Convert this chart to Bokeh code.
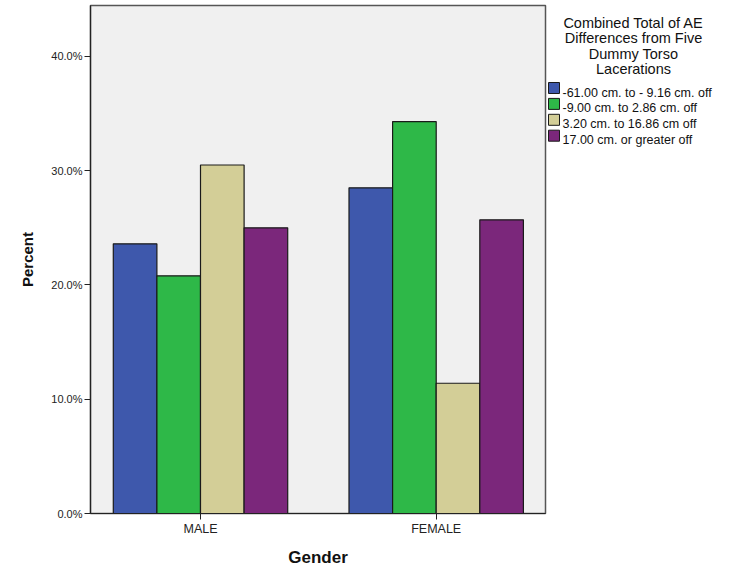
from bokeh.plotting import figure
from bokeh.layouts import row
from bokeh.models import FixedTicker, Range1d, ColumnDataSource
from bokeh.core.properties import value
from bokeh.embed import file_html
from bokeh.resources import INLINE

genders = ["MALE", "FEMALE"]
series_names = ["-61.00 cm. to - 9.16 cm. off", "-9.00 cm. to 2.86 cm. off",
                "3.20 cm. to 16.86 cm off", "17.00 cm. or greater off"]
values = {
    "-61.00 cm. to - 9.16 cm. off": [23.6, 28.5],
    "-9.00 cm. to 2.86 cm. off": [20.8, 34.3],
    "3.20 cm. to 16.86 cm off": [30.5, 11.4],
    "17.00 cm. or greater off": [25.0, 25.7],
}
colors = ["#3e58ac", "#2eb848", "#d3ce97", "#7b277b"]
y_ticks = [0, 10, 20, 30, 40]
legend_title_lines = ["Combined Total of AE", "Differences from Five", "Dummy Torso", "Lacerations"]

FONT = "Liberation Sans"

# ---------------- main chart ----------------
p = figure(frame_width=455, frame_height=508, output_backend="svg", toolbar_location=None,
           x_range=Range1d(-0.4667, 1.4637), y_range=Range1d(0, 44.46),
           min_border_left=90, min_border_right=2, min_border_top=5, min_border_bottom=62)
p.background_fill_color = "#f0f0f0"
p.border_fill_color = "white"
p.outline_line_color = "#555555"
p.outline_line_width = 1.5
p.grid.visible = False

w = 0.185
xs = list(range(len(genders)))
for i, name in enumerate(series_names):
    off = (i - 1.5) * w
    p.vbar(x=[x + off for x in xs], top=values[name], width=w, bottom=0,
           fill_color=colors[i], line_color="#1a1a1a", line_width=1.2)

p.xaxis.ticker = FixedTicker(ticks=xs)
p.xaxis.major_label_overrides = {i: g for i, g in enumerate(genders)}
p.xaxis.minor_tick_line_color = None
p.xaxis.major_tick_in = 0
p.xaxis.major_tick_out = 6
p.xaxis.axis_label = "Gender"

p.yaxis.ticker = FixedTicker(ticks=y_ticks)
p.yaxis.major_label_overrides = {t: f"{t:.1f}%" for t in y_ticks}
p.yaxis.minor_tick_line_color = None
p.yaxis.major_tick_in = 0
p.yaxis.major_tick_out = 6
p.yaxis.axis_label = "Percent"

for ax in (p.xaxis[0], p.yaxis[0]):
    ax.axis_line_color = "#222222"
    ax.axis_line_width = 1.2
    ax.major_tick_line_color = "#222222"
    ax.major_label_text_font = FONT
    ax.major_label_text_font_size = "11px"
    ax.major_label_text_color = "#222222"
    ax.axis_label_text_font = FONT
    ax.axis_label_text_font_style = "bold"
    ax.axis_label_text_color = "#111111"
    ax.major_label_standoff = 2

p.xaxis.major_label_text_font_size = "12.5px"
p.xaxis.axis_label_text_font_size = "17px"
p.yaxis.axis_label_text_font_size = "15px"
p.xaxis.axis_label_standoff = 9
p.yaxis.axis_label_standoff = 12

# ---------------- legend panel (pixel coordinates) ----------------
LX0, LW, LH = 547, 173, 575
lg = figure(frame_width=LW, frame_height=LH, output_backend="svg", toolbar_location=None,
            x_range=Range1d(LX0, LX0 + LW), y_range=Range1d(LH, 0),
            min_border=0, x_axis_type=None, y_axis_type=None)
lg.outline_line_color = None
lg.background_fill_color = "white"
lg.border_fill_color = "white"
lg.grid.visible = False

title_src = ColumnDataSource(dict(
    x=[633] * len(legend_title_lines),
    y=[17.5 + 15.3 * k for k in range(len(legend_title_lines))],
    t=legend_title_lines))
lg.text(x="x", y="y", text="t", source=title_src, text_align="center",
        text_baseline="alphabetic", text_font=value(FONT), text_font_size="14.5px",
        text_color="#111111")

row_y = [82.5 + 15.9 * k for k in range(len(series_names))]
lg.rect(x=[553.5] * len(series_names), y=row_y, width=11, height=11,
        fill_color=colors, line_color="#1a1a1a", line_width=1)
lg.text(x=[562] * len(series_names), y=[yy + 4.5 for yy in row_y], text=series_names,
        text_align="left", text_baseline="alphabetic", text_font=value(FONT),
        text_font_size="12.5px", text_color="#111111")

layout = row(p, lg)
open("out.html", "w").write(file_html(layout, INLINE))
